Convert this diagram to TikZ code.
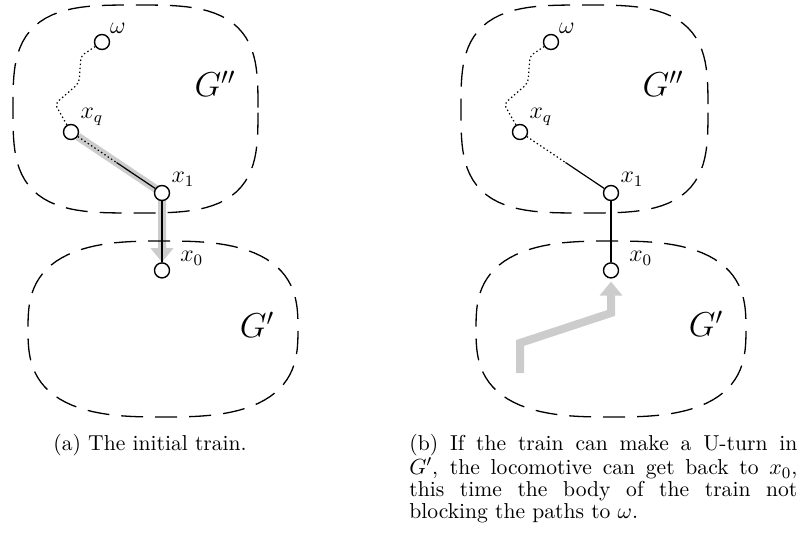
\documentclass[tikz,border=0pt]{standalone}
\usepackage{tikz}
\usetikzlibrary{arrows.meta,positioning,calc}
\pgfdeclarelayer{bg}
\pgfsetlayers{bg,main}
\newcommand\blob[5]%
{\draw[region] plot[variable=\t,domain=2:362,samples=121]
	({#1+#3*cos(\t)/(abs(cos(\t))^#5+abs(sin(\t))^#5)^(1/#5)},
	{#2+#4*sin(\t)/(abs(cos(\t))^#5+abs(sin(\t))^#5)^(1/#5)}) -- cycle;%
}

\begin{document}
\begin{tikzpicture}[x=0.5pt,y=-0.5pt]
		\tikzstyle{region}=[dash pattern=on 11pt off 6pt,line width=0.65pt]
		\tikzstyle{vert}=[circle,draw=black,fill=white,line width=0.7pt,inner sep=0pt,minimum size=7.5pt]
		\tikzstyle{lab}=[inner sep=1pt,font=\large]
		\tikzstyle{link}=[line width=0.6pt]
		\tikzstyle{dots}=[link,dash pattern=on 0.7pt off 1.3pt]
		\tikzstyle{train}=[line width=4pt,draw=black!20,-{Triangle[width=11pt,length=7pt]}]
		\tikzstyle{capt}=[anchor=north west,inner sep=0pt,font=\fontsize{10.8}{10.85}\selectfont]
		
		\useasboundingbox (0,0) rectangle (799,536);
		
		% (a)
		\blob{135.5}{109}{122.5}{104}{3.3}
		\blob{163}{329}{135}{88}{2.8}
		\node[font=\LARGE] (Gpp_a) at (215,84) {$G''$};
		\node[font=\LARGE] (Gp_a) at (257,325) {$G'$};
		
		\node[vert,label={[lab]45:$\omega$}] (omega_a) at (102,42) {};
		\node[vert,label={[lab]30:$x_q$}] (xq_a) at (71,132) {};
		\node[vert,label={[lab]30:$x_1$}] (x1_a) at (162,193) {};
		\node[vert,label={[lab,label distance=4pt]10:$x_0$}] (x0_a) [below=30.5pt of x1_a] {};
		
		\coordinate (c1_a) at (81,56);
		\coordinate (c2_a) at (79,83);
		\coordinate (c3_a) at (55,104);
		\coordinate (mid_a) at ($(xq_a)!0.5!(x1_a)$);
		
		\begin{pgfonlayer}{bg}
			\draw[train] (xq_a) -- (x1_a.center) -- (x0_a);
		\end{pgfonlayer}
		\draw[dots,rounded corners=2pt] (omega_a) -- (c1_a) -- (c2_a) -- (c3_a) -- (xq_a);
		\draw[dots] (xq_a) -- (mid_a);
		\draw[link] (mid_a) -- (x1_a);
		\draw[link] (x1_a) -- (x0_a);
		
		\node[capt] (cap_a) at (53,434) {(a) The initial train.};
		
		% (b)
		\blob{584.5}{109}{123.5}{104}{3.3}
		\blob{611}{329}{135}{88}{2.8}
		\node[font=\LARGE] (Gpp_b) at (663,84) {$G''$};
		\node[font=\LARGE] (Gp_b) at (706,324) {$G'$};
		
		\node[vert,label={[lab]45:$\omega$}] (omega_b) at (551,42) {};
		\node[vert,label={[lab]30:$x_q$}] (xq_b) at (520,132) {};
		\node[vert,label={[lab]30:$x_1$}] (x1_b) at (611,193) {};
		\node[vert,label={[lab,label distance=4pt]10:$x_0$}] (x0_b) [below=30.5pt of x1_b] {};
		
		\coordinate (c1_b) at (530,56);
		\coordinate (c2_b) at (528,83);
		\coordinate (c3_b) at (504,104);
		\coordinate (mid_b) at ($(xq_b)!0.5!(x1_b)$);
		\coordinate (tail_b) at (520,373);
		\coordinate (k1_b) at (520,343);
		\coordinate (k2_b) at (611,313);
		
		\draw[train,shorten >=1.5pt] (tail_b) -- (k1_b) -- (k2_b) -- (x0_b);
		\draw[dots,rounded corners=2pt] (omega_b) -- (c1_b) -- (c2_b) -- (c3_b) -- (xq_b);
		\draw[dots] (xq_b) -- (mid_b);
		\draw[link] (mid_b) -- (x1_b);
		\draw[link] (x1_b) -- (x0_b);
		
		\node[capt,text width=194pt,align=justify] (cap_b) at (409,434) {\baselineskip=10.85pt
			(b) If the train can make a U-turn in\linebreak
			$G'$, the locomotive can get back to $x_0$,\linebreak
			this time the body of the train not\linebreak
			blocking the paths to $\omega$.\par};
\end{tikzpicture}
\end{document}
